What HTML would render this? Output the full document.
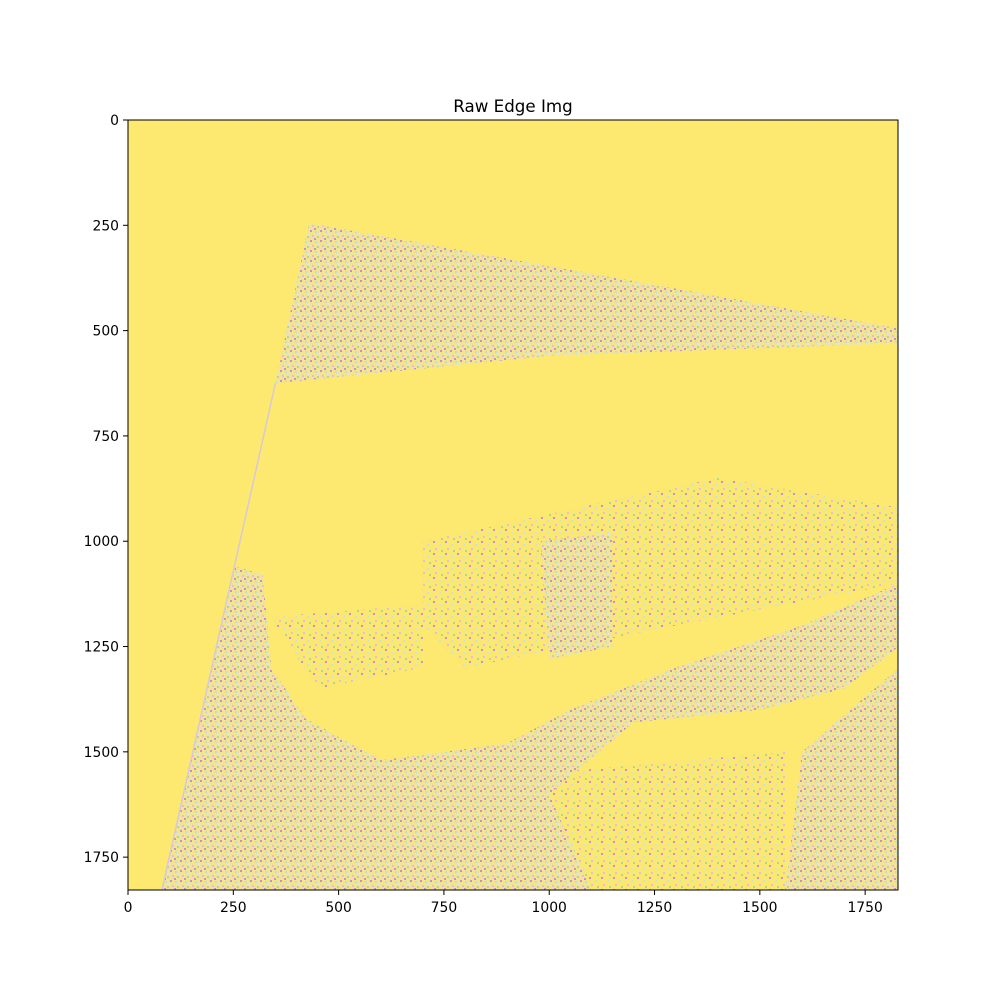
<!DOCTYPE html>
<html><head><meta charset="utf-8"><style>
body{margin:0;background:#fff;}
svg text{font-family:"DejaVu Sans","Liberation Sans",sans-serif;fill:#000;}
</style></head><body>
<svg id="chart" width="1000" height="1000" xmlns="http://www.w3.org/2000/svg">
<defs>
<pattern id="dense" width="10" height="10" patternUnits="userSpaceOnUse">
<rect width="10" height="10" fill="#f3e48f"/>
<rect x="0" y="0" width="2" height="2" fill="#c48fd8"/>
<rect x="5" y="1" width="2" height="2" fill="#b8e0e0"/>
<rect x="2" y="5" width="2" height="2" fill="#e8b8e8"/>
<rect x="7" y="6" width="2" height="2" fill="#b0d890"/>
<rect x="4" y="8" width="2" height="2" fill="#c48fd8"/>
<rect x="8" y="3" width="2" height="2" fill="#e0e0f0"/>
</pattern>
<pattern id="sparse" width="12" height="12" patternUnits="userSpaceOnUse">
<rect width="12" height="12" fill="#fbe873"/>
<rect x="1" y="1" width="2" height="2" fill="#c48fd8"/>
<rect x="7" y="4" width="2" height="2" fill="#c8e4e0"/>
<rect x="3" y="8" width="2" height="2" fill="#e8b8e8"/>
<rect x="9" y="10" width="2" height="2" fill="#b0d890"/>
</pattern>
<clipPath id="clip"><rect x="128" y="120" width="770" height="770"/></clipPath>
</defs>
<rect x="128" y="120" width="770" height="770" fill="#fde96f"/>
<g id="regions" clip-path="url(#clip)"></g>
<rect x="128" y="120" width="770" height="770" fill="none" stroke="#000" stroke-width="1"/>
<g id="xticks"></g><g id="yticks"></g>
<text x="513" y="112" text-anchor="middle" font-size="16.7">Raw Edge Img</text>
</svg>
<script>
const xTickLabels=[0,250,500,750,1000,1250,1500,1750];
const yTickLabels=[0,250,500,750,1000,1250,1500,1750];
const denseRegions=[
 [[430,245],[1830,495],[1830,530],[1000,560],[350,625]],
 [[255,1060],[320,1080],[340,1300],[420,1420],[600,1520],[900,1480],[1050,1400],[1300,1300],[1600,1200],[1830,1100],[1830,1250],[1700,1350],[1500,1400],[1200,1430],[1000,1600],[1100,1830],[80,1830]],
 [[1600,1500],[1830,1300],[1830,1830],[1560,1830]],
 [[980,1000],[1150,980],[1150,1250],[1000,1280]]
];
const sparseRegions=[
 [[1000,1550],[1560,1500],[1560,1830],[1050,1830]],
 [[700,1000],[1400,850],[1830,920],[1830,1100],[1300,1200],[800,1300],[700,1200]],
 [[340,1180],[700,1150],[700,1300],[450,1350]]
];
const leftEdgeLine=[[350,625],[80,1830]];
const X0=128,Y0=120,S=770/1828;
const sx=v=>X0+v*S, sy=v=>Y0+v*S;
const NS='http://www.w3.org/2000/svg';
const reg=document.getElementById('regions');
function poly(pts,fill,name){
 const p=document.createElementNS(NS,'polygon');
 p.setAttribute('points',pts.map(q=>sx(q[0])+','+sy(q[1])).join(' '));
 p.setAttribute('fill',fill);
 
 
 reg.appendChild(p);
}
sparseRegions.forEach(r=>poly(r,'url(#sparse)','sparse-edge-region'));
denseRegions.forEach(r=>poly(r,'url(#dense)','dense-edge-region'));
const ln=document.createElementNS(NS,'line');
ln.setAttribute('x1',sx(leftEdgeLine[0][0]));ln.setAttribute('y1',sy(leftEdgeLine[0][1]));
ln.setAttribute('x2',sx(leftEdgeLine[1][0]));ln.setAttribute('y2',sy(leftEdgeLine[1][1]));
ln.setAttribute('stroke','#d8c8d8');ln.setAttribute('stroke-width','1.5');


reg.appendChild(ln);
const xg=document.getElementById('xticks'),yg=document.getElementById('yticks');
xTickLabels.forEach(v=>{
 const x=sx(v);
 const t=document.createElementNS(NS,'line');
 t.setAttribute('x1',x);t.setAttribute('x2',x);t.setAttribute('y1',890);t.setAttribute('y2',895);t.setAttribute('stroke','#000');
 
 
 xg.appendChild(t);
 const l=document.createElementNS(NS,'text');
 l.setAttribute('x',x);l.setAttribute('y',912);l.setAttribute('text-anchor','middle');l.setAttribute('font-size','13.9');
 l.textContent=v;
 
 
 xg.appendChild(l);
});
yTickLabels.forEach(v=>{
 const y=sy(v);
 const t=document.createElementNS(NS,'line');
 t.setAttribute('x1',123);t.setAttribute('x2',128);t.setAttribute('y1',y);t.setAttribute('y2',y);t.setAttribute('stroke','#000');
 
 
 yg.appendChild(t);
 const l=document.createElementNS(NS,'text');
 l.setAttribute('x',119);l.setAttribute('y',y+5);l.setAttribute('text-anchor','end');l.setAttribute('font-size','13.9');
 l.textContent=v;
 
 
 yg.appendChild(l);
});
</script>
</body></html>
